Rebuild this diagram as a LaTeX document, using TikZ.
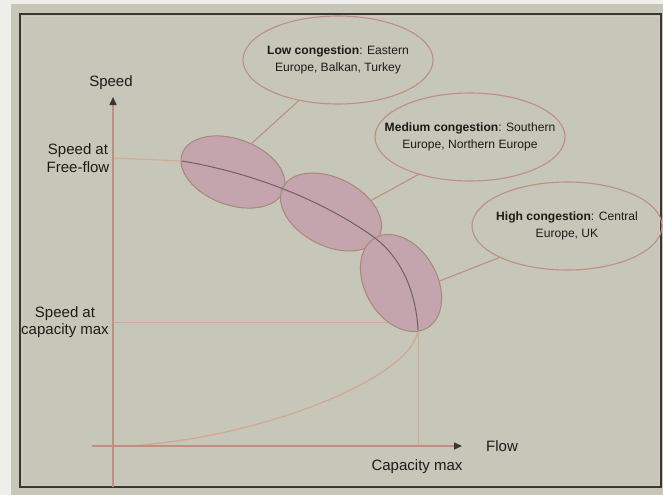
\documentclass[tikz,border=0pt]{standalone}
\usepackage{fontspec}
\setmainfont{Liberation Sans}
\usetikzlibrary{shapes.geometric,arrows.meta}
\definecolor{paper}{HTML}{EEEEEA}
\definecolor{panel}{HTML}{C6C6B9}
\definecolor{framec}{HTML}{3A3636}
\definecolor{axisc}{HTML}{BF8F80}
\definecolor{guide}{HTML}{D3A890}
\definecolor{blob}{HTML}{C4A5AD}
\definecolor{blobedge}{HTML}{A98779}
\definecolor{curvedark}{HTML}{6E6068}
\definecolor{ink}{HTML}{1E1A1A}
\begin{document}
\begin{tikzpicture}[x=1pt,y=-1pt,
  zone/.style={ellipse, draw=blobedge, fill=blob, line width=1pt, inner sep=0pt},
  callout/.style={ellipse, draw=axisc, line width=1.1pt, inner sep=0pt,
    minimum width=190pt, minimum height=88pt},
  callouttext/.style={align=center, inner sep=0pt,
    font=\fontsize{12.1}{16.8}\selectfont, text=ink},
  axislabel/.style={font=\fontsize{15}{17.5}\selectfont, text=ink, align=center, inner sep=0pt},
  axisline/.style={draw=axisc, line width=1.5pt},
  guideline/.style={draw=guide, line width=1pt},
  link/.style={draw=axisc, line width=1.1pt},
  tip/.style={-{Triangle[length=8pt,width=7pt,color=framec]}},
]
\useasboundingbox (0,0) rectangle (663,495);
% page and panel
\fill[paper] (0,0) rectangle (663,495);
\fill[panel] (11,4) rectangle (663,495);
\draw[framec, line width=2pt] (20,14) rectangle (661,487);
\draw[blobedge!45, line width=0.6pt] (22,16) rectangle (659,485);

% axis end points
\coordinate (yfoot) at (113,487);
\coordinate (ytop) at (113,97);
\coordinate (xleft) at (92,446);
\coordinate (xright) at (462,446);

% reference lines and the uncongested / lower branch of the curve
\coordinate (ffstart) at (113,158);
\coordinate (ffend) at (182,161);
\coordinate (capleft) at (113,322);
\coordinate (capright) at (418,322);
\coordinate (capfoot) at (418,446);
\coordinate (captop) at (418,330);
\coordinate (origin) at (128,446);
\draw[guideline] (ffstart) -- (ffend);
\draw[guideline] (capleft) -- (capright);
\draw[guideline, line width=0.8pt] (capfoot) -- (captop);
\draw[guideline, line width=1.3pt] (captop) .. controls (412,378) and (262,438) .. (origin);

% axes
\draw[axisline, tip] (yfoot) -- (ytop);
\draw[axisline, tip] (xleft) -- (xright);

% congestion zones along the curve
\node[zone, minimum width=108pt, minimum height=66pt, rotate=-20] (e1) at (233,172) {};
\node[zone, minimum width=108pt, minimum height=68pt, rotate=-27] (e2) at (331,212) {};
\node[zone, minimum width=104pt, minimum height=72pt, rotate=-60] (e3) at (401,283) {};

% congested part of the speed-flow curve
\coordinate (knee) at (375,238);
\draw[curvedark, line width=1pt] (ffend) .. controls (260,174) and (330,205) .. (knee)
  .. controls (400,257) and (416,290) .. (captop);

% axis labels
\node[axislabel] (speedlbl) at (111,83) {Speed};
\node[axislabel] (fflbl) at (78,158) {Speed at\\Free-flow};
\node[axislabel] (cmlbl) at (65,322) {Speed at\\capacity max};
\node[axislabel, anchor=west] (flowlbl) at (486,446) {Flow};
\node[axislabel] (caplbl) at (417,467) {Capacity max};

% call-outs
\node[callout, label={[callouttext]center:{\textbf{Low congestion}: Eastern\\Europe, Balkan, Turkey}}] (low) at (338,60) {};
\node[callout, label={[callouttext]center:{\textbf{Medium congestion}: Southern\\Europe, Northern Europe}}] (mid) at (470,137) {};
\node[callout, label={[callouttext]center:{\textbf{High congestion}: Central\\Europe, UK}}] (high) at (567,226) {};

\draw[link] (low.226) -- (e1.77);
\draw[link] (mid.216) -- (e2.43);
\draw[link] (high.205) -- (e3.63);
\end{tikzpicture}
\end{document}
